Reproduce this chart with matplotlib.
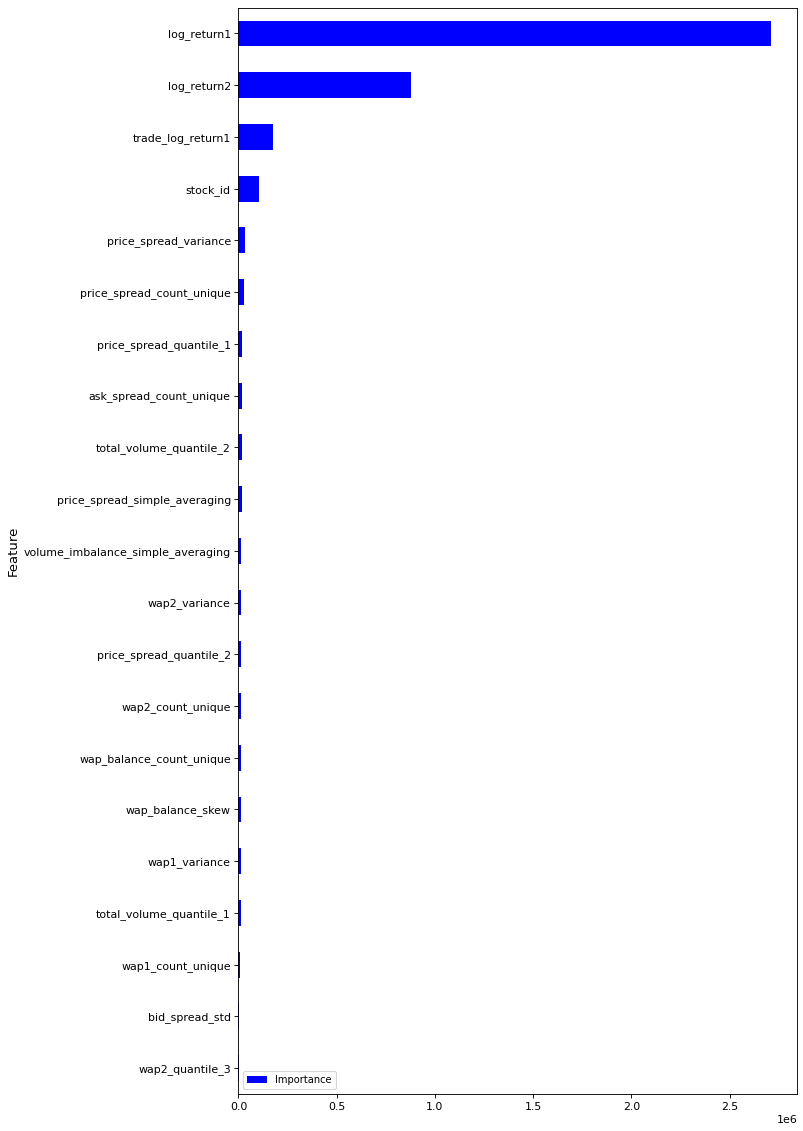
import matplotlib
matplotlib.use("Agg")
import matplotlib.pyplot as plt

features = [
    "log_return1", "log_return2", "trade_log_return1", "stock_id",
    "price_spread_variance", "price_spread_count_unique", "price_spread_quantile_1",
    "ask_spread_count_unique", "total_volume_quantile_2", "price_spread_simple_averaging",
    "volume_imbalance_simple_averaging", "wap2_variance", "price_spread_quantile_2",
    "wap2_count_unique", "wap_balance_count_unique", "wap_balance_skew",
    "wap1_variance", "total_volume_quantile_1", "wap1_count_unique",
    "bid_spread_std", "wap2_quantile_3",
]
importance = [
    2710000, 880000, 176000, 104000,
    33000, 27500, 19000,
    18800, 18500, 18200,
    14000, 13800, 13600,
    13400, 13300, 13200,
    13000, 12800, 8500,
    3000, 1200,
]

DPI = 79.2
fig = plt.figure(figsize=(803 / DPI, 1131 / DPI), dpi=DPI)
ax = fig.add_axes([0.297, 0.0327, 0.696, 0.9606])

feat_plot = features[::-1]
imp_plot = importance[::-1]
pos = list(range(len(feat_plot)))
ax.barh(pos, imp_plot, height=0.5, color="blue", label="Importance")
ax.set_yticks(pos)
ax.set_yticklabels(feat_plot, fontsize=10)
ax.set_ylim(-0.5, len(feat_plot) - 0.5)
ax.tick_params(axis="x", labelsize=10)
ax.xaxis.get_offset_text().set_fontsize(10)
ax.set_ylabel("Feature", fontsize=12)
ax.legend(loc="lower left", fontsize=9)

fig.savefig("out.png", dpi=DPI)
